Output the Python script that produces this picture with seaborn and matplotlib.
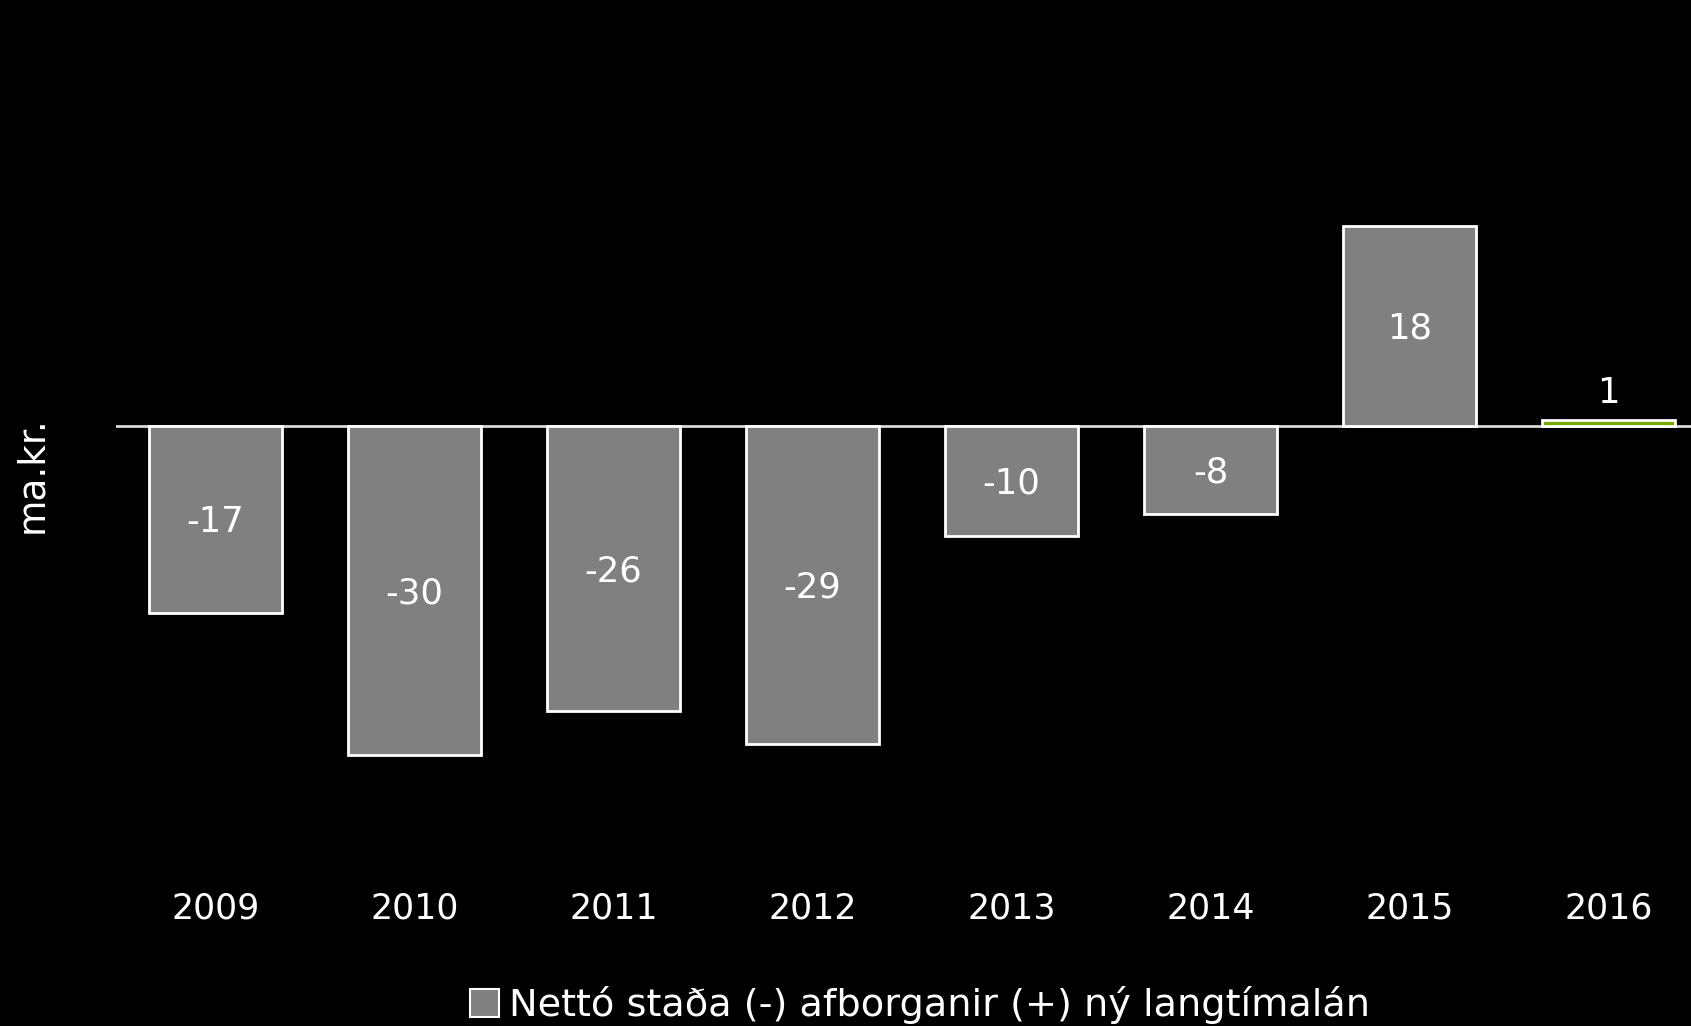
import matplotlib
matplotlib.use("Agg")
import matplotlib.pyplot as plt
from matplotlib.patches import Patch
import seaborn as sns
import pandas as pd

# Nettó staða langtímalána ríkissjóðs, ma.kr.
years = ["2009", "2010", "2011", "2012", "2013", "2014", "2015", "2016"]
values = [-17, -30, -26, -29, -10, -8, 18.3, 0.6]
bar_colors = ["#808080"] * 7 + ["#77a800"]
legend_label = "Nettó staða (-) afborganir (+) ný langtímalán"
y_label = "ma.kr."

df = pd.DataFrame({"year": years, "value": values})

sns.set_theme(style="white")
plt.rcParams["font.family"] = ["DejaVu Sans"]

fig = plt.figure(figsize=(16.91, 10.26), dpi=100, facecolor="black")
ax = fig.add_axes([116 / 1691, 1 - 870 / 1026, 1 - 116 / 1691, 870 / 1026])
ax.set_facecolor("black")

sns.barplot(data=df, x="year", y="value", hue="year", palette=bar_colors,
            legend=False, width=0.67, edgecolor="white", linewidth=2,
            saturation=1, ax=ax)

ax.axhline(0, color="#d9d9d9", lw=2, zorder=0)
ax.set_xlim(-0.5, 7.415)
ax.set_ylim(-40.5, 38.9)

# data labels
for i, v in enumerate(values):
    if abs(v) >= 2:
        ax.text(i, v / 2 - 0.25, f"{v:.0f}", ha="center", va="center",
                color="white", fontsize=25.5)
    else:
        ax.text(i, v + 0.9, f"{v:.0f}", ha="center", va="bottom",
                color="white", fontsize=25.5)

for s in ax.spines.values():
    s.set_visible(False)
ax.set_yticks([])
ax.set_xticks([])
ax.set_xlabel("")
ax.set_ylabel("")

# year labels below the plot
for i, y in enumerate(years):
    ax.text(i, -44.0, y, ha="center", va="center", color="white",
            fontsize=25, clip_on=False)

fig.text(32 / 1691, 1 - 475 / 1026, y_label, rotation=90, ha="center",
         va="center", color="white", fontsize=27)

handle = Patch(facecolor="#808080", edgecolor="white", linewidth=1.5)
fig.legend([handle], [legend_label], loc="center",
           bbox_to_anchor=(920 / 1691, 1 - 1005 / 1026), frameon=False,
           fontsize=27.5, labelcolor="white", handlelength=0.75,
           handleheight=0.75, handletextpad=0.25)

fig.savefig("out.png", dpi=100, facecolor="black")
